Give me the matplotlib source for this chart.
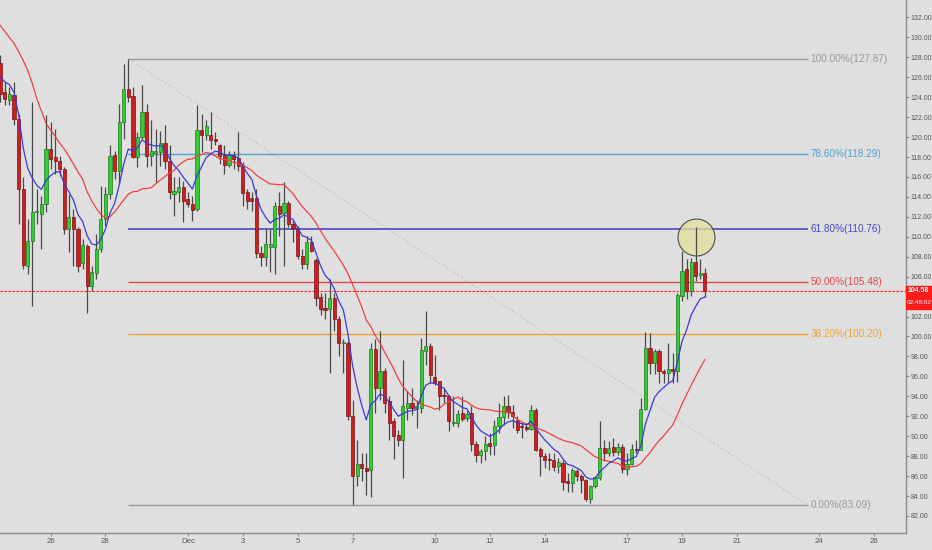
import numpy as np
import pandas as pd
import matplotlib
matplotlib.use("Agg")
import matplotlib.pyplot as plt
from matplotlib.patches import Rectangle

plt.rcParams["font.family"] = ["Liberation Sans", "DejaVu Sans"]

# ---------------- data (4-hour candles) ----------------
opens = [127.4, 124.52, 123.68, 124.25, 121.84, 114.8, 107.09, 109.53, 112.45, 112.28,
         113.29, 118.82, 117.98, 117.65, 116.81, 110.77, 111.95, 110.77, 107.42, 109.1,
         105.07, 106.35, 108.76, 111.78, 114.3, 118.2, 116.64, 121.5, 124.79, 124.09,
         117.98, 120.0, 122.51, 118.15, 118.4, 118.49, 119.43, 117.65, 114.3, 114.53,
         114.97, 113.79, 113.29, 112.79, 120.73, 120.23, 120.23, 119.83, 119.16, 118.2,
         117.21, 118.2, 117.88, 117.14, 114.46, 113.93, 113.86, 108.36, 107.99, 108.93,
         108.93, 113.05, 112.38, 113.36, 111.28, 110.84, 108.03, 107.25, 109.43, 107.69,
         103.97, 102.73, 102.73, 103.9, 101.79, 99.31, 99.38, 92.0, 86.03, 87.24,
         86.8, 86.63, 98.77, 94.84, 96.52, 93.5, 91.49, 90.15, 89.58, 92.83,
         93.34, 92.73, 92.83, 98.53, 99.04, 95.95, 95.52, 94.18, 94.07, 91.32,
         91.32, 92.33, 91.83, 92.33, 89.24, 88.14, 88.47, 89.32, 89.15, 90.99,
         91.93, 93.07, 92.4, 91.66, 90.92, 90.92, 90.72, 92.67, 88.71, 88.04,
         87.74, 87.64, 87.04, 87.3, 85.46, 85.29, 86.46, 86.03, 85.63, 83.68,
         84.96, 85.8, 88.81, 88.31, 88.88, 88.41, 88.88, 86.7, 87.2, 88.71,
         88.64, 92.74, 98.87, 97.3, 98.54, 96.52, 96.29, 96.76, 96.52, 104.07,
         106.75, 104.57, 107.49, 106.14, 106.41]
highs = [128.2, 125.53, 125.0, 125.5, 122.34, 115.97, 111.78, 123.52, 114.8, 114.13,
         122.17, 121.5, 120.83, 118.15, 116.98, 114.3, 112.79, 110.94, 109.77, 109.27,
         107.09, 110.27, 115.13, 114.97, 119.16, 118.65, 123.35, 127.37, 127.87, 125.0,
         120.5, 125.19, 123.35, 121.67, 120.83, 120.66, 121.17, 119.16, 115.97, 115.97,
         115.64, 114.46, 114.13, 123.18, 122.34, 121.67, 122.51, 120.5, 119.33, 119.16,
         118.65, 118.65, 120.5, 117.48, 114.8, 114.46, 114.8, 109.1, 110.77, 110.77,
         113.46, 114.46, 115.47, 113.63, 111.61, 111.04, 108.76, 110.1, 110.1, 107.92,
         104.4, 104.4, 105.75, 104.4, 102.06, 99.71, 99.54, 93.67, 89.65, 88.31,
         88.31, 99.37, 99.7, 100.54, 96.86, 94.0, 91.83, 90.65, 97.69, 94.51,
         94.84, 93.67, 99.87, 102.56, 99.37, 98.1, 95.52, 94.84, 94.18, 94.01,
         92.67, 94.01, 92.5, 93.0, 89.48, 88.71, 89.98, 90.32, 91.66, 93.34,
         94.08, 94.18, 93.17, 92.0, 91.33, 91.33, 93.17, 92.84, 88.91, 88.31,
         88.31, 88.31, 87.81, 87.64, 86.3, 86.8, 86.7, 86.23, 85.7, 85.12,
         86.03, 91.5, 89.65, 89.48, 89.82, 89.32, 89.25, 88.31, 89.25, 89.58,
         93.84, 100.45, 100.38, 98.7, 98.7, 96.76, 99.31, 98.37, 104.4, 108.6,
         107.76, 107.92, 110.94, 107.82, 106.82]
lows = [123.5, 123.18, 123.25, 121.17, 111.28, 106.75, 106.25, 103.06, 111.28, 108.76,
        112.45, 116.81, 116.31, 116.14, 110.27, 108.43, 107.09, 106.42, 106.75, 102.39,
        104.57, 105.75, 108.43, 111.11, 113.79, 115.8, 115.3, 119.83, 123.52, 117.9,
        116.98, 119.83, 116.98, 117.14, 115.47, 117.14, 116.81, 113.79, 112.12, 113.46,
        111.45, 112.95, 111.61, 112.62, 118.49, 119.66, 118.82, 119.16, 117.31, 116.31,
        116.98, 116.81, 116.64, 113.12, 112.79, 112.62, 107.92, 107.09, 107.09, 106.42,
        106.25, 110.1, 107.09, 110.94, 109.43, 107.82, 106.75, 106.75, 108.43, 103.06,
        102.2, 101.72, 96.36, 100.55, 98.03, 96.36, 91.66, 83.09, 84.96, 85.46,
        84.12, 83.95, 92.33, 93.67, 92.33, 89.65, 87.7, 88.98, 85.79, 91.66,
        92.16, 90.82, 92.33, 97.19, 95.35, 95.18, 92.67, 93.34, 90.48, 91.0,
        90.92, 91.49, 91.49, 88.47, 87.37, 87.3, 87.64, 88.14, 88.14, 90.32,
        91.16, 91.83, 90.82, 90.32, 89.82, 90.49, 90.66, 88.48, 85.96, 86.8,
        86.63, 86.46, 86.3, 84.62, 84.45, 84.45, 85.46, 84.28, 83.51, 83.28,
        84.79, 85.63, 87.47, 87.97, 87.97, 88.14, 86.3, 86.13, 87.14, 88.31,
        88.58, 92.67, 96.19, 96.19, 95.35, 95.35, 95.42, 95.35, 95.42, 103.56,
        103.73, 104.07, 105.58, 105.8, 104.0]
closes = [124.35, 123.85, 124.35, 121.77, 114.8, 107.15, 109.6, 112.45, 112.6, 113.29,
          118.82, 117.82, 117.65, 116.81, 110.77, 111.95, 110.77, 107.09, 109.16, 105.07,
          106.42, 108.76, 111.78, 114.3, 118.15, 116.64, 121.5, 124.86, 124.02, 117.98,
          120.0, 122.51, 118.15, 118.65, 118.65, 119.43, 117.65, 114.46, 114.63, 114.97,
          113.63, 113.29, 112.72, 120.73, 120.23, 121.1, 119.66, 119.56, 118.15, 117.21,
          118.2, 117.82, 117.14, 114.4, 113.63, 113.63, 108.36, 107.99, 109.27, 109.27,
          113.05, 112.28, 113.36, 111.28, 110.84, 108.03, 107.25, 109.43, 108.6, 103.9,
          102.73, 102.7, 103.9, 101.79, 99.31, 99.38, 92.0, 86.03, 87.24, 86.8,
          86.46, 98.7, 94.84, 96.52, 93.34, 91.32, 90.05, 89.65, 93.07, 93.34,
          92.83, 93.07, 98.63, 99.04, 96.09, 95.35, 94.01, 94.01, 91.49, 91.35,
          92.26, 91.73, 92.26, 89.24, 88.14, 88.54, 89.24, 89.05, 91.06, 91.93,
          93.07, 92.4, 92.0, 90.66, 90.9, 90.72, 92.67, 88.65, 87.97, 87.64,
          87.57, 86.9, 87.37, 85.36, 85.29, 86.63, 85.96, 85.63, 83.68, 84.96,
          85.9, 88.81, 88.31, 88.81, 88.41, 88.88, 86.7, 87.2, 88.71, 88.58,
          92.74, 98.87, 97.3, 98.54, 96.52, 96.29, 96.76, 96.52, 104.14, 106.58,
          104.57, 107.49, 106.08, 106.41, 104.58]

# x-axis dates: days after 26 Nov, and their labels
tick_days = [0, 2, 5, 7, 9, 11, 14, 16, 18, 21, 23, 25, 28, 30]
tick_labels = ["26", "28", "Dec", "3", "5", "7", "10", "12", "14", "17", "19", "21", "24", "26"]
first_day_bar = 11     # bar index of 26 Nov 00:00
bars_per_day = 6

# Fibonacci retracement
fib_ratios = [100.0, 78.6, 61.8, 50.0, 38.2, 0.0]
fib_prices = [127.87, 118.29, 110.76, 105.48, 100.20, 83.09]
fib_colors = ["#9a9a9a", "#4ea3d2", "#4a4ac6", "#e04a4a", "#f2a238", "#9a9a9a"]
fib_start_bar = 28
fib_end_bar = 176.5

last_price = 104.58
countdown = "02:48:02"

# moving averages
fast_span = 8
fast_seed = 126.5
slow_window = 20
slow_lead = [131.2, 130.6, 130.0, 129.4, 128.6, 127.7, 126.7, 125.4, 123.85, 122.6,
             121.4, 120.7, 120.1, 119.4, 118.8, 118.1, 117.3, 116.5, 115.8]

circle_bar = 152
circle_price = 110.0

# ---------------- drawing ----------------
bg = "#dfdfdf"
o = np.array(opens); h = np.array(highs); l = np.array(lows); c = np.array(closes)
n = len(c)
x = np.arange(n)

fig = plt.figure(figsize=(9.32, 5.5), dpi=100)
fig.patch.set_facecolor(bg)
ax = fig.add_axes([0, 17.3 / 550, 905.7 / 932, 532.7 / 550])
ax.set_facecolor(bg)

ax.set_xlim(-0.05, 197.9)
ax.set_ylim(80.32, 133.75)

# fib trend diagonal
ax.plot([fib_start_bar, fib_end_bar], [fib_prices[0], fib_prices[-1]],
        color="#c6c6c6", lw=0.9, ls=(0, (1.5, 2.0)), zorder=1)

# fib levels
for r, p, col in zip(fib_ratios, fib_prices, fib_colors):
    ax.hlines(p, fib_start_bar, fib_end_bar, color=col, lw=1.2 if r == 61.8 else 1.0, zorder=2)
    ax.text(fib_end_bar + 0.6, p, f"{r:.2f}%({p:.2f})", color=col, fontsize=7.2,
            va="center", ha="left", zorder=2)

# current price line
ax.axhline(last_price, color="#ff3030", lw=0.9, ls=(0, (2, 1.2)), zorder=2)

# highlight circle
ax.plot(circle_bar, circle_price, marker="o", markersize=26.6,
        mfc=(0.90, 0.88, 0.60, 0.75), mec="#4a4a4a", mew=0.8, zorder=3.5)

# candles
up = c >= o
ax.vlines(x, l, h, color="#4a4a4a", lw=0.9, zorder=3.8)
body_bottom = np.minimum(o, c)
body_h = np.maximum(np.abs(c - o), 0.12)
face = np.where(up, "#33cc33", "#cc1f1f")
edge = np.where(up, "#1d7a1d", "#7a1010")
ax.bar(x, body_h, bottom=body_bottom, width=0.7, color=face, edgecolor=edge,
       linewidth=0.5, zorder=4)

# moving averages
fast = pd.Series([fast_seed] + closes).ewm(span=fast_span, adjust=False).mean().iloc[1:].to_numpy()
slow_calc = pd.Series(closes).rolling(slow_window).mean().to_numpy()
slow = np.concatenate([np.array(slow_lead), slow_calc[len(slow_lead):]])
ax.plot(x, slow, color="#f04040", lw=0.9, zorder=5)
ax.plot(x, fast, color="#3a3ad6", lw=0.9, zorder=5)

# axes styling
ax.yaxis.tick_right()
yt = np.arange(82, 133, 2)
ax.set_yticks(yt)
ax.set_yticklabels(["" if v == 104 else f"{v:.2f}" for v in yt])
ax.set_xticks([first_day_bar + bars_per_day * d for d in tick_days])
ax.set_xticklabels(tick_labels)
ax.tick_params(axis="both", direction="out", length=2.5, width=0.8, color="#8a8a8a",
               labelcolor="#555555", pad=1.2)
ax.tick_params(axis="y", labelsize=5.0)
ax.tick_params(axis="x", labelsize=5.6)
for s in ["top", "left"]:
    ax.spines[s].set_visible(False)
for s in ["right", "bottom"]:
    ax.spines[s].set_color("#8a8a8a")
    ax.spines[s].set_linewidth(1.0)

# price / countdown boxes on right axis
fig.canvas.draw()
ypix = ax.transData.transform((0, last_price))[1]
x0 = 905.7 / 932
fig.add_artist(Rectangle((x0, (ypix - 5) / 550), 1 - x0, 10 / 550,
                         transform=fig.transFigure, color="#ff1a1a", zorder=10))
fig.add_artist(Rectangle((x0, (ypix - 18) / 550), 1 - x0, 12 / 550,
                         transform=fig.transFigure, color="#ff1a1a", zorder=10))
fig.text(x0 + 2 / 932, ypix / 550, f"{last_price:.2f}", color="white", fontsize=5.0,
         va="center", ha="left", zorder=11, fontweight="bold")
fig.text(x0 + 0.8 / 932, (ypix - 12) / 550, countdown, color="white", fontsize=4.6,
         va="center", ha="left", zorder=11)

fig.savefig("out.png", dpi=100, facecolor=bg)
